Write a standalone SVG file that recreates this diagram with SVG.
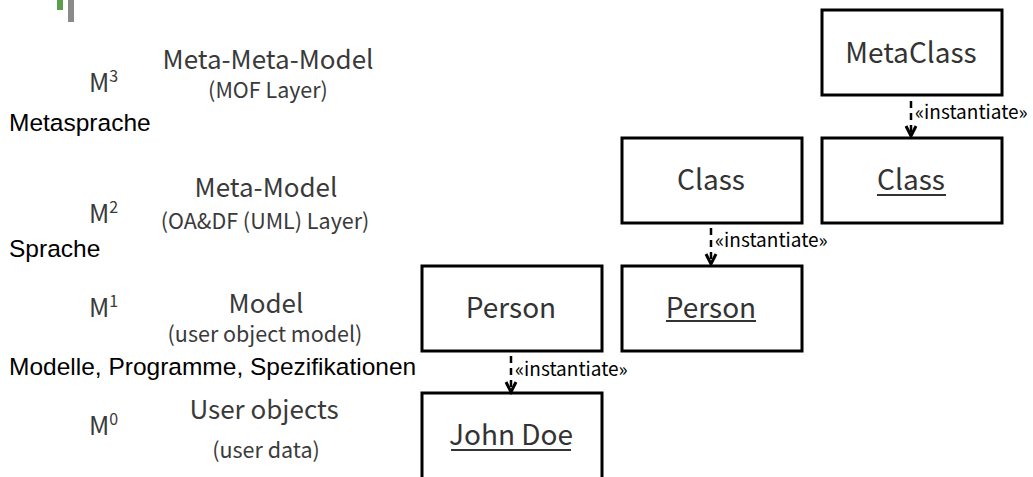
<svg xmlns="http://www.w3.org/2000/svg" width="1033" height="477" viewBox="0 0 1033 477">
<style>
.box{fill:#fff;stroke:#000;stroke-width:3}
.lbl{font-family:"Noto Sans CJK JP","Noto Sans",sans-serif;font-size:28px;fill:#333;text-anchor:middle}
.lvl{font-family:"Noto Sans CJK JP","Noto Sans",sans-serif;fill:#3a3a3a;text-anchor:middle}
.t1{font-size:26px}
.t2{font-size:21.5px}
.m{font-family:"Noto Sans CJK JP","Noto Sans",sans-serif;fill:#3a3a3a;font-size:25px}
.blk{font-family:"Liberation Sans",Arial,sans-serif;font-size:24.5px;fill:#000}
.st{font-family:"Noto Sans CJK JP","Noto Sans",sans-serif;font-size:19px;fill:#000}
.dash{stroke:#000;stroke-width:2.5;stroke-dasharray:7,5;fill:none}
.head{stroke:#000;stroke-width:3;fill:none}
.ul{stroke:#333;stroke-width:2}
</style>
<rect x="57" y="0" width="6" height="10" fill="#5a9e4e"/>
<rect x="68" y="0" width="6" height="22" fill="#8a8a8a"/>

<g id="levels">
<text class="m" x="89" y="92">M<tspan font-size="16" dy="-10">3</tspan></text>
<text class="lvl t1" x="268" y="69">Meta-Meta-Model</text>
<text class="lvl t2" x="268" y="98">(MOF Layer)</text>
<text class="blk" x="9" y="131">Metasprache</text>

<text class="m" x="89" y="223">M<tspan font-size="16" dy="-10">2</tspan></text>
<text class="lvl t1" x="266" y="197">Meta-Model</text>
<text class="lvl t2" x="265" y="229">(OA&amp;DF (UML) Layer)</text>
<text class="blk" x="9" y="257">Sprache</text>

<text class="m" x="89" y="317">M<tspan font-size="16" dy="-10">1</tspan></text>
<text class="lvl t1" x="266" y="313">Model</text>
<text class="lvl t2" x="265" y="342">(user object model)</text>
<text class="blk" x="9" y="375">Modelle, Programme, Spezifikationen</text>

<text class="m" x="89" y="435">M<tspan font-size="16" dy="-10">0</tspan></text>
<text class="lvl t1" x="264" y="419">User objects</text>
<text class="lvl t2" x="266" y="458">(user data)</text>
</g>

<g id="metaclass"><rect class="box" x="822" y="10" width="180" height="85"/><text class="lbl" x="911" y="63">MetaClass</text></g>
<g id="class-m2"><rect class="box" x="622" y="138" width="180" height="85"/><text class="lbl" x="711" y="190">Class</text></g>
<g id="class-m3"><rect class="box" x="822" y="138" width="180" height="85"/><text class="lbl" x="911" y="190">Class</text><line class="ul" x1="877" y1="195" x2="946" y2="195"/></g>
<g id="person-m1"><rect class="box" x="422" y="266" width="180" height="85"/><text class="lbl" x="511" y="318">Person</text></g>
<g id="person-m2"><rect class="box" x="622" y="266" width="180" height="85"/><text class="lbl" x="711" y="318">Person</text><line class="ul" x1="666" y1="321" x2="756" y2="321"/></g>
<g id="johndoe"><rect class="box" x="422" y="393" width="180" height="86"/><text class="lbl" x="511" y="445">John Doe</text><line class="ul" x1="451" y1="450" x2="571" y2="450"/></g>

<g id="connectors">
<line class="dash" x1="911" y1="101" x2="911" y2="135"/>
<polyline class="head" points="906,126 911,136 916,126"/>
<text class="st" x="915" y="119">«instantiate»</text>
<line class="dash" x1="711" y1="228" x2="711" y2="263"/>
<polyline class="head" points="706,254 711,264 716,254"/>
<text class="st" x="715" y="247">«instantiate»</text>
<line class="dash" x1="511" y1="356" x2="511" y2="391"/>
<polyline class="head" points="506,382 511,392 516,382"/>
<text class="st" x="515" y="376">«instantiate»</text>
</g>
</svg>
